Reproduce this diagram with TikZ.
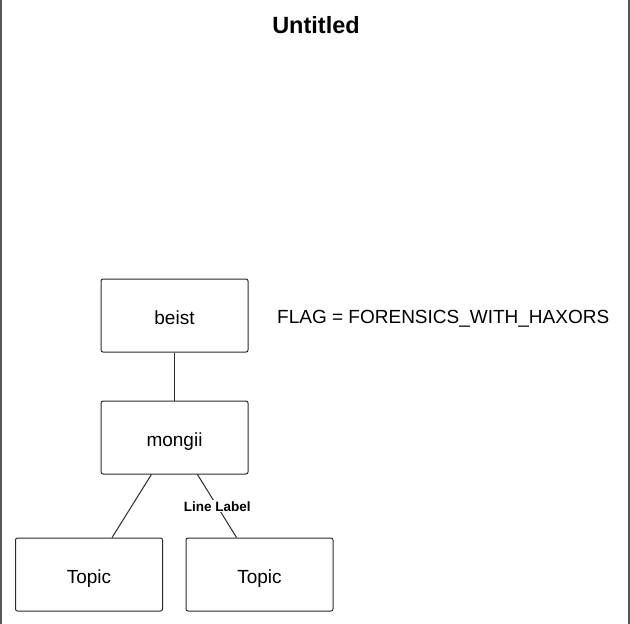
\documentclass[tikz,border=0pt]{standalone}
\usepackage{fontspec}
\setmainfont{Liberation Sans}
\usetikzlibrary{positioning}
\definecolor{vframe}{HTML}{555555}
\definecolor{vline}{HTML}{2a2a2a}

\begin{document}
\begin{tikzpicture}[x=1pt, y=-1pt,
		topic/.style={draw=vline, line width=1pt, rounded corners=2pt, minimum width=147pt, minimum height=73pt, text height=17pt, text depth=0pt, font=\fontsize{19}{22}\selectfont},
		link/.style={draw=vline, line width=1pt}]
		\useasboundingbox (0,0) rectangle (630,624);
		\draw[color=vframe, line width=2pt] (1,0) -- (1,624);
		\draw[color=vframe, line width=2pt] (629,0) -- (629,624);
		\node[anchor=base, inner sep=0pt, font=\bfseries\fontsize{23.5}{28}\selectfont] (title) at (316,33) {Untitled};
		\node[topic] (beist) at (174.5,315.5) {beist};
		\node[topic, below=48pt of beist] (mongii) {mongii};
		\node[topic] (topicA) at (89,574.5) {Topic};
		\node[topic] (topicB) at (259.5,574.5) {Topic};
		\node[anchor=base west, inner sep=0pt, font=\fontsize{19}{22}\selectfont] (flag) at (277,323) {FLAG = FORENSICS\_WITH\_HAXORS};
		\draw[link] (beist) -- (mongii);
		\draw[link] (mongii) -- (topicA);
		\draw[link] (mongii) -- node[fill=white, inner sep=1pt, font=\bfseries\fontsize{13.5}{16}\selectfont, pos=0.505] (lbl) {Line Label} (topicB);
	\end{tikzpicture}
\end{document}
